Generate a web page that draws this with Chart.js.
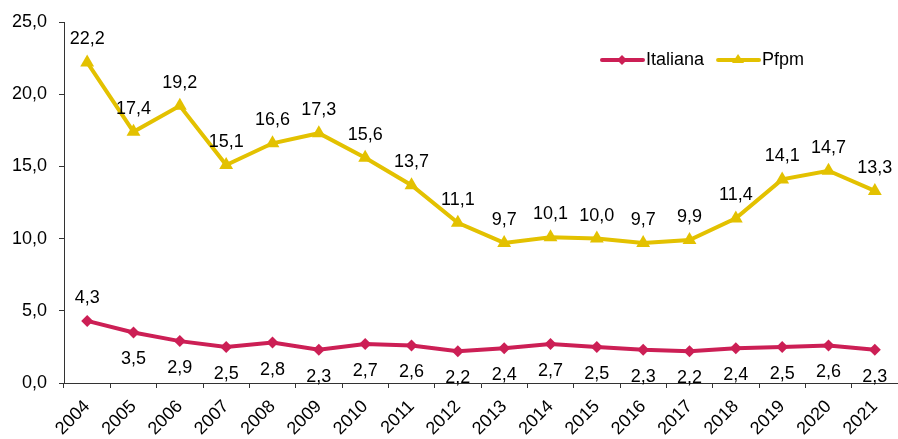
<!DOCTYPE html>
<html>
<head>
<meta charset="utf-8">
<script src="https://cdn.jsdelivr.net/npm/chart.js@4"></script>
<style>
  html,body{margin:0;padding:0;background:#fff;}
  #wrap{width:898px;height:439px;}
</style>
</head>
<body>
<div id="wrap"><canvas id="mychart"></canvas></div>
<script>
const Anni=["2004","2005","2006","2007","2008","2009","2010","2011","2012","2013","2014","2015","2016","2017","2018","2019","2020","2021"]
const Italiana=[4.3,3.5,2.9,2.5,2.8,2.3,2.7,2.6,2.2,2.4,2.7,2.5,2.3,2.2,2.4,2.5,2.6,2.3]
const Pfpm=[22.2,17.4,19.2,15.1,16.6,17.3,15.6,13.7,11.1,9.7,10.1,10.0,9.7,9.9,11.4,14.1,14.7,13.3]
const Ticks=[0,5,10,15,20,25]

const rosso="#cc1f55"
const giallo="#e3c100"
const font="'Liberation Sans', Arial, sans-serif"
const fmt=v=>v.toFixed(1).replace(".",",")

// etichette dei valori + legenda disegnata a mano
const etichette={
    id:"etichette",
    afterDatasetsDraw(chart){
        const ctx=chart.ctx
        ctx.save()
        ctx.font="18px "+font
        ctx.fillStyle="#000"
        ctx.textAlign="center"
        ctx.textBaseline="middle"
        chart.data.datasets.forEach((ds,i)=>{
            const meta=chart.getDatasetMeta(i)
            meta.data.forEach((p,j)=>{
                let dy
                if(i===1) dy=-23
                else dy=(j===0)?-23:27
                ctx.fillText(fmt(ds.data[j]),p.x,p.y+dy)
            })
        })
        // legenda
        const items=[{t:"Italiana",c:rosso,s:"rect"},{t:"Pfpm",c:giallo,s:"tri"}]
        let x=602
        const y=60
        items.forEach(it=>{
            ctx.strokeStyle=it.c
            ctx.lineWidth=4
            ctx.lineCap="round"
            ctx.beginPath();ctx.moveTo(x,y);ctx.lineTo(x+41,y);ctx.stroke()
            ctx.fillStyle=it.c
            ctx.beginPath()
            if(it.s==="rect"){
                ctx.moveTo(x+20,y-5);ctx.lineTo(x+25,y);ctx.lineTo(x+20,y+5);ctx.lineTo(x+15,y)
            }else{
                ctx.moveTo(x+20,y-6);ctx.lineTo(x+26,y+3);ctx.lineTo(x+14,y+3)
            }
            ctx.closePath();ctx.fill()
            ctx.fillStyle="#000"
            ctx.textAlign="left"
            ctx.fillText(it.t,x+44,y)
            x+=44+ctx.measureText(it.t).width+14
        })
        ctx.restore()
    }
}

new Chart("mychart",{
    type:"line",
    data:{
        labels:Anni,
        datasets:[{
                label:"Italiana",
                data:Italiana,
                borderColor:rosso,
                backgroundColor:rosso,
                borderWidth:4,
                fill:false,
                tension:0,
                pointStyle:"rectRot",
                pointRadius:6,
                pointBorderWidth:0,
            },
            {
                label:"Pfpm",
                data:Pfpm,
                borderColor:giallo,
                backgroundColor:giallo,
                borderWidth:4,
                fill:false,
                tension:0,
                pointStyle:"triangle",
                pointRadius:8,
                pointBorderWidth:0,
            },
        ],
    },
    options:{
        responsive:true,
        maintainAspectRatio:false,
        animation:false,
        layout:{autoPadding:false,padding:{top:22,right:0,left:0,bottom:0}},
        plugins:{legend:{display:false},tooltip:{enabled:false}},
        scales:{
            x:{
                offset:true,
                afterFit(axis){axis.height=56;axis.paddingLeft=0;axis.paddingRight=0},
                grid:{display:true,drawOnChartArea:false,offset:true,color:"#333",tickLength:5,tickWidth:1},
                border:{display:true,color:"#333",width:1},
                ticks:{color:"#000",font:{size:18,family:font},maxRotation:45,minRotation:45,padding:8,autoSkip:false},
            },
            y:{
                min:0,max:25,
                afterFit(axis){axis.width=64;axis.paddingTop=0;axis.paddingBottom=0},
                afterBuildTicks(axis){axis.ticks=Ticks.map(v=>({value:v}))},
                grid:{display:true,drawOnChartArea:false,color:"#333",tickLength:5},
                border:{display:true,color:"#333",width:1},
                ticks:{color:"#000",font:{size:18,family:font},callback:v=>fmt(v),padding:12},
            },
        },
    },
    plugins:[etichette],
});
</script>
</body>
</html>
